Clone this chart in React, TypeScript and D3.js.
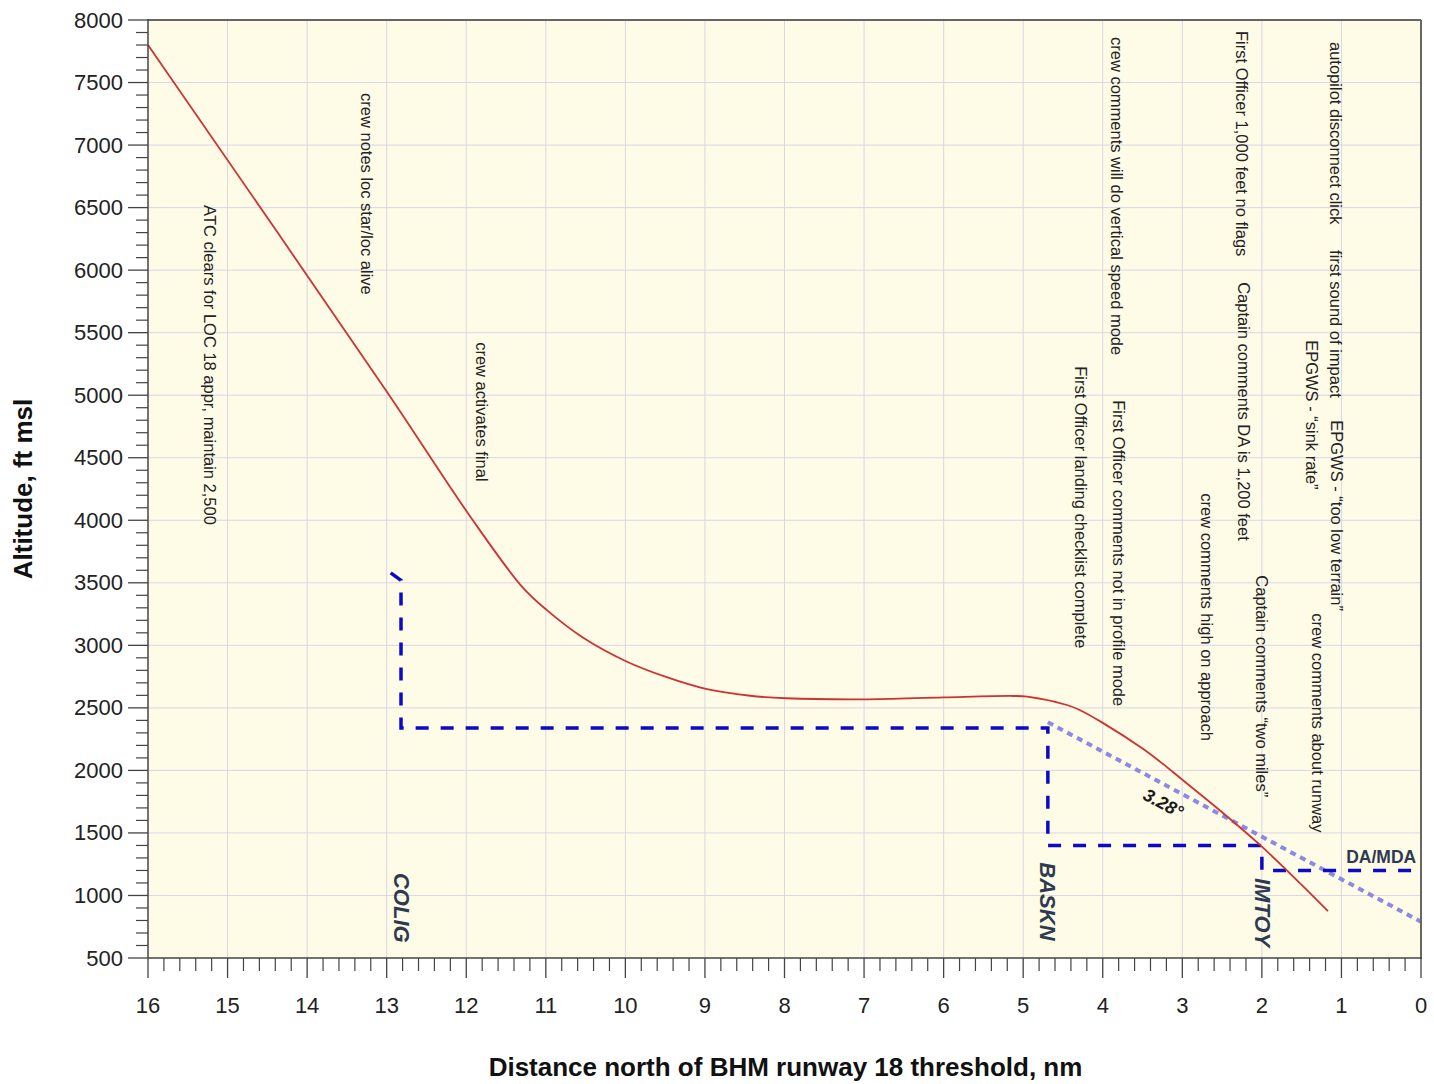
import React from 'react';
import * as d3 from 'd3';

// ---- data ----
const xTickValues = [16, 15, 14, 13, 12, 11, 10, 9, 8, 7, 6, 5, 4, 3, 2, 1, 0];
const yTickValues = [500, 1000, 1500, 2000, 2500, 3000, 3500, 4000, 4500, 5000, 5500, 6000, 6500, 7000, 7500, 8000];

// flight path (distance nm, altitude ft)
const flightDist = [16, 13.0, 11.95, 11.3, 10.99, 10.53, 10.0, 9.48, 8.99, 8.43, 7.98, 7.0, 6.0, 5.13, 4.95, 4.45, 4.29, 4.0, 3.5, 3.28, 3.0, 2.5, 2.0, 1.5, 1.17];
const flightAlt = [7800, 5030, 4030, 3470, 3283, 3060, 2875, 2745, 2652, 2597, 2577, 2568, 2584, 2595, 2590, 2523, 2483, 2380, 2175, 2070, 1925, 1665, 1390, 1085, 875];

// published step-down profile
const profileDist = [12.95, 12.82, 12.82, 4.69, 4.69, 2.0, 2.0, 0];
const profileAlt = [3580, 3520, 2340, 2340, 1400, 1400, 1200, 1200];

// 3.28 deg glide path
const glideDist = [4.69, 0];
const glideAlt = [2385, 790];
const glideLabel = '3.28°';
const glideLabelDist = 3.24;
const glideLabelAlt = 1736;

const daLabel = 'DA/MDA';
const daLabelDist = 0.06;
const daLabelAlt = 1256;

const waypointNames = ['COLIG', 'BASKN', 'IMTOY'];
const waypointDist = [12.82, 4.7, 1.99];
const waypointLabelAlt = [1180, 1265, 1140];

const eventTexts = [
  'ATC clears for LOC 18 appr, maintain 2,500',
  'crew notes loc star/loc alive',
  'crew activates final',
  'crew comments will do vertical speed mode',
  'First Officer landing checklist complete',
  'First Officer comments not in profile mode',
  'First Officer 1,000 feet no flags',
  'Captain comments DA is 1,200 feet',
  'crew comments high on approach',
  'Captain comments \u201Ctwo miles\u201D',
  'autopilot disconnect click',
  'first sound of impact',
  'EPGWS - \u201Ctoo low terrain\u201D',
  'EPGWS - \u201Csink rate\u201D',
  'crew comments about runway',
];
const eventDist = [15.22, 13.25, 11.8, 3.82, 4.27, 3.8, 2.25, 2.22, 2.69, 2.0, 1.07, 1.07, 1.06, 1.37, 1.29];
const eventAlt = [6520, 7416, 5424, 7864, 5232, 4960, 7912, 5904, 4216, 3560, 7824, 6160, 4800, 5440, 3256];

const xTitle = 'Distance north of BHM runway 18 threshold, nm';
const yTitle = 'Altitude, ft msl';

// ---- layout ----
const W = 1434;
const H = 1084;
const left = 148;
const right = 1421;
const top = 20;
const bottom = 958;
const FONT = '"Liberation Sans", Arial, Helvetica, sans-serif';

export default function App() {
  const x = d3.scaleLinear().domain([16, 0]).range([left, right]);
  const y = d3.scaleLinear().domain([500, 8000]).range([bottom, top]);

  const minorX = d3.range(0, 16.0001, 0.2).filter((v) => Math.abs(v - Math.round(v)) > 0.01);
  const minorY = d3.range(500, 8000.1, 100).filter((v) => v % 500 !== 0);

  const flightPts: [number, number][] = flightDist.map((d, i) => [x(d), y(flightAlt[i])]);
  const flightPath = d3.line().curve(d3.curveCatmullRom.alpha(0.5))(flightPts) || '';
  const profilePath = d3.line()(profileDist.map((d, i) => [x(d), y(profileAlt[i])] as [number, number])) || '';
  const glidePath = d3.line()(glideDist.map((d, i) => [x(d), y(glideAlt[i])] as [number, number])) || '';

  const tickColor = '#444';
  const gridColor = '#d9d6e8';

  return (
    <svg
      width={W}
      height={H}
      style={{ position: 'absolute', left: 0, top: 0, background: '#fff' }}
      fontFamily={FONT}
    >
      <rect x={0} y={0} width={W} height={H} fill="#ffffff" />
      <rect x={left} y={top} width={right - left} height={bottom - top} fill="#fefbe7" />

      {/* grid */}
      {xTickValues.filter((v) => v !== 0 && v !== 16).map((v) => (
        <line key={'gx' + v} x1={x(v)} x2={x(v)} y1={top} y2={bottom} stroke={gridColor} strokeWidth={1} />
      ))}
      {yTickValues.filter((v) => v !== 500 && v !== 8000).map((v) => (
        <line key={'gy' + v} x1={left} x2={right} y1={y(v)} y2={y(v)} stroke={gridColor} strokeWidth={1} />
      ))}

      {/* annotations */}
      {eventTexts.map((t, i) => (
        <text
          key={'ev' + i}
          transform={`translate(${x(eventDist[i])},${y(eventAlt[i])}) rotate(90)`}
          fontSize={16.5}
          fill="#222"
          dominantBaseline="central"
        >
          {t}
        </text>
      ))}

      {/* glide path */}
      <path d={glidePath} fill="none" stroke="#8a8ae6" strokeWidth={4} strokeDasharray="6 5" />

      {/* step-down profile */}
      <path d={profilePath} fill="none" stroke="#0a0ac8" strokeWidth={3.5} strokeDasharray="13 12" />

      {/* flight path */}
      <path d={flightPath} fill="none" stroke="#cc3333" strokeWidth={1.8} />

      {/* waypoint labels */}
      {waypointNames.map((n, i) => (
        <text
          key={'wp' + n}
          transform={`translate(${x(waypointDist[i])},${y(waypointLabelAlt[i])}) rotate(90)`}
          fontSize={22}
          fontWeight="bold"
          fontStyle="italic"
          fill="#2d3a50"
          dominantBaseline="central"
        >
          {n}
        </text>
      ))}

      <text
        transform={`translate(${x(glideLabelDist)},${y(glideLabelAlt)}) rotate(28)`}
        fontSize={18}
        fontWeight="bold"
        fontStyle="italic"
        fill="#1a1a1a"
        textAnchor="middle"
        dominantBaseline="central"
      >
        {glideLabel}
      </text>

      <text x={x(daLabelDist)} y={y(daLabelAlt)} fontSize={17.5} fontWeight="bold" fill="#2d3a50" textAnchor="end">
        {daLabel}
      </text>

      {/* frame */}
      <line x1={left} x2={right} y1={top} y2={top} stroke="#666" strokeWidth={2} />
      <line x1={right} x2={right} y1={top} y2={bottom} stroke="#666" strokeWidth={2} />
      <line x1={left} x2={right + 1} y1={bottom} y2={bottom} stroke={tickColor} strokeWidth={1.5} />
      <line x1={left} x2={left} y1={top - 1} y2={bottom} stroke={tickColor} strokeWidth={1.5} />

      {/* y ticks */}
      {yTickValues.map((v) => (
        <g key={'yt' + v}>
          <line x1={left - 20} x2={left} y1={y(v)} y2={y(v)} stroke={tickColor} strokeWidth={1.3} />
          <text x={left - 25} y={y(v)} fontSize={22} fill="#222" textAnchor="end" dominantBaseline="central">
            {v}
          </text>
        </g>
      ))}
      {minorY.map((v) => (
        <line key={'ym' + v} x1={left - 12} x2={left} y1={y(v)} y2={y(v)} stroke={tickColor} strokeWidth={1.2} />
      ))}

      {/* x ticks */}
      {xTickValues.map((v) => (
        <g key={'xt' + v}>
          <line x1={x(v)} x2={x(v)} y1={bottom} y2={bottom + 20} stroke={tickColor} strokeWidth={1.3} />
          <text x={x(v)} y={1005} fontSize={22} fill="#222" textAnchor="middle" dominantBaseline="central">
            {v}
          </text>
        </g>
      ))}
      {minorX.map((v) => (
        <line key={'xm' + v.toFixed(1)} x1={x(v)} x2={x(v)} y1={bottom} y2={bottom + 13} stroke={tickColor} strokeWidth={1.2} />
      ))}

      {/* axis titles */}
      <text x={(left + right) / 2 + 1} y={1067} fontSize={26} fontWeight="bold" fill="#111" textAnchor="middle" dominantBaseline="central">
        {xTitle}
      </text>
      <text
        transform={`translate(23,${(top + bottom) / 2}) rotate(-90)`}
        fontSize={26}
        fontWeight="bold"
        fill="#111"
        textAnchor="middle"
        dominantBaseline="central"
      >
        {yTitle}
      </text>
    </svg>
  );
}
